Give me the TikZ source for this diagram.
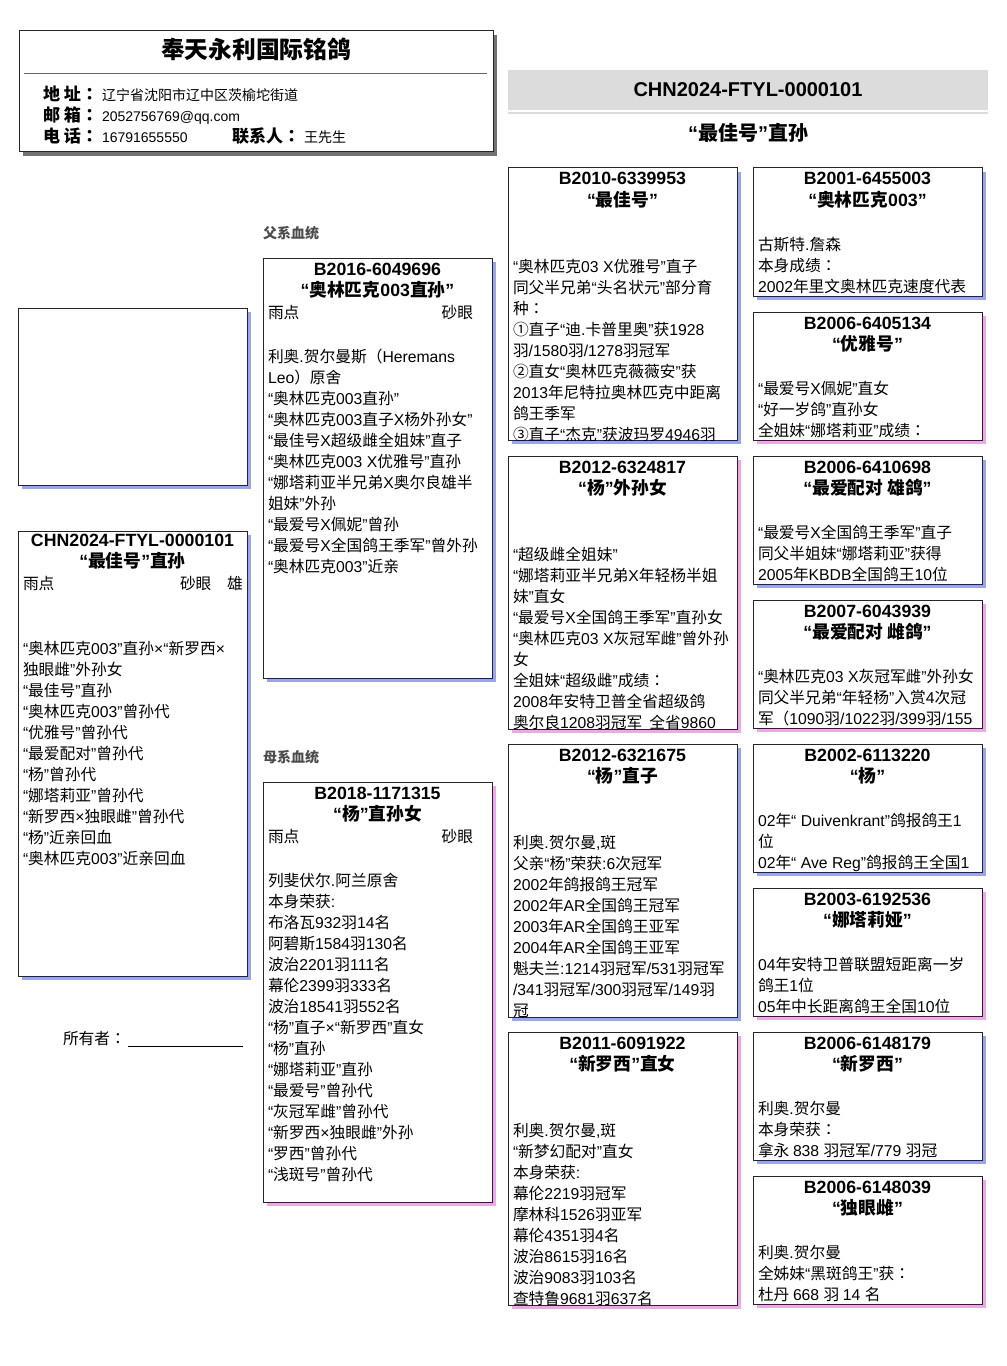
\documentclass[tikz,border=0pt]{standalone}
\usepackage{fontspec}
\setmainfont{Liberation Sans}
\newfontfamily\latinfont{Liberation Sans}
\newfontfamily\cjkfont{Noto Sans CJK SC}
\newfontfamily\punctfont{Noto Sans CJK TC}
\usetikzlibrary{shadows}

% Han characters in Noto, Latin text and quotes in Liberation
\XeTeXinterchartokenstate=1
\newXeTeXintercharclass\cjkclass
\newXeTeXintercharclass\punctclass
\newcount\cjkcode
\def\setcjkrange#1#2{\cjkcode=#1\relax
  \loop\XeTeXcharclass\cjkcode=\cjkclass
  \advance\cjkcode by 1
  \ifnum\cjkcode<#2\repeat}
\setcjkrange{"4E00}{"A000}
\setcjkrange{"3000}{"3040}
\setcjkrange{"FF00}{"FFF0}
\setcjkrange{"2460}{"24A0}
\XeTeXcharclass`“=0
\XeTeXcharclass`”=0
\XeTeXcharclass`：=\punctclass
\XeTeXinterchartoks 0 \cjkclass={\cjkfont}
\XeTeXinterchartoks 4095 \cjkclass={\cjkfont}
\XeTeXinterchartoks \punctclass \cjkclass={\cjkfont}
\XeTeXinterchartoks \cjkclass 0={\latinfont}
\XeTeXinterchartoks \punctclass 0={\latinfont}
\XeTeXinterchartoks 4095 0={\latinfont}
\XeTeXinterchartoks 0 \punctclass={\punctfont}
\XeTeXinterchartoks 4095 \punctclass={\punctfont}
\XeTeXinterchartoks \cjkclass \punctclass={\punctfont}

\definecolor{shadeblue}{RGB}{152,164,244}
\definecolor{shadepink}{RGB}{244,164,234}
\definecolor{bandgray}{RGB}{220,220,220}

\begin{document}
\begin{tikzpicture}[x=0.75pt, y=-0.75pt,
  every node/.style={inner sep=0pt, outer sep=0pt},
  body/.style={font=\fontsize{11.8}{15.75}\selectfont, anchor=base west},
  head/.style={font=\fontsize{13.3}{15}\selectfont\bfseries, anchor=base},
  card/.style={draw=black!85, fill=white, line width=0.75pt, anchor=north west,
    minimum width=171.75pt, minimum height=#1*0.75pt},
  blueside/.style={drop shadow={shadow xshift=3pt, shadow yshift=-3pt, fill=shadeblue, opacity=1}},
  pinkside/.style={drop shadow={shadow xshift=3pt, shadow yshift=-3pt, fill=shadepink, opacity=1}},
  lab/.style={font=\fontsize{12.8}{15}\selectfont\bfseries, anchor=base west},
  val/.style={font=\fontsize{10.5}{13}\selectfont, anchor=base west},
  tag/.style={font=\fontsize{10.5}{13}\selectfont\bfseries, text=black!70, anchor=base west}]

\useasboundingbox (0,0) rectangle (1006,1366);
\fill[white] (0,0) rectangle (1006,1366);

% ===== 鸽舍信息 =====
\node[draw=black!85, fill=white, line width=0.75pt, anchor=north west,
  minimum width=474*0.75pt, minimum height=121*0.75pt,
  drop shadow={shadow xshift=3pt, shadow yshift=-3pt, fill=black!55, opacity=1}] (loft) at (19,31) {};
\node[font=\fontsize{17.8}{20}\selectfont\bfseries, anchor=base] (loft-name) at (256,59) {奉天永利国际铭鸽};
\draw[black!60, line width=0.75pt] (24,74) -- (487,74);
\node[lab] (addr-l) at (43,101) {地 址：};
\node[val] (addr) at (102,101) {辽宁省沈阳市辽中区茨榆坨街道};
\node[lab] (mail-l) at (43,122) {邮 箱：};
\node[val] (mail) at (102,122) {2052756769@qq.com};
\node[lab] (tel-l) at (43,143) {电 话：};
\node[val] (tel) at (102,143) {16791655550};
\node[lab] (who-l) at (232,143) {联系人：};
\node[val] (who) at (304,143) {王先生};

% ===== 右上标题 =====
\node[fill=bandgray, minimum width=360pt, minimum height=30pt,
  font=\fontsize{15}{18}\selectfont\bfseries] (ring) at (748,90) {CHN2024-FTYL-0000101};
\draw[bandgray, line width=1.5pt] (508,113) -- (988,113);
\node[font=\fontsize{15}{18}\selectfont\bfseries, anchor=base] (ring-name) at (748,141) {“最佳号”直孙};

% ===== 照片框 =====
\node[card=177, blueside] (photo) at (18,308) {};

% ===== 本鸽 =====
\node[card=445, blueside] (self) at (18,531) {};
\node[head] (self-ring) at ([shift={(0,15)}]self.north) {CHN2024-FTYL-0000101};
\node[head] (self-name) at ([shift={(0,36)}]self.north) {“最佳号”直孙};
\node[body] (self-eye1) at ([shift={(5,58)}]self.north west) {雨点};
\node[body] (self-eye2) at ([shift={(162,58)}]self.north west) {砂眼};
\node[body] (self-sex) at ([shift={(209,58)}]self.north west) {雄};
\foreach \t [count=\i from 0] in {“奥林匹克003”直孙×“新罗西×, 独眼雌”外孙女, “最佳号”直孙,
  “奥林匹克003”曾孙代, “优雅号”曾孙代, “最爱配对”曾孙代, “杨”曾孙代, “娜塔莉亚”曾孙代,
  “新罗西×独眼雌”曾孙代, “杨”近亲回血, “奥林匹克003”近亲回血}
  \node[body] (self-\i) at ([shift={(5,123+21*\i)}]self.north west) {\t};

\node[body] (owner) at (63,1044) {所有者：};
\draw[line width=0.6pt] (128,1046) -- (243,1046);

% ===== 父系 =====
\node[tag] (sire-tag) at (263,238) {父系血统};
\node[card=420, blueside] (sire) at (263,258) {};
\node[head] (sire-ring) at ([shift={(0,17)}]sire.north) {B2016-6049696};
\node[head] (sire-name) at ([shift={(0,38)}]sire.north) {“奥林匹克003直孙”};
\node[body] (sire-eye1) at ([shift={(5,60)}]sire.north west) {雨点};
\node[body, anchor=base east] (sire-eye2) at ([shift={(210,60)}]sire.north west) {砂眼};
\foreach \t [count=\i from 0] in {利奥.贺尔曼斯（Heremans, Leo）原舍, “奥林匹克003直孙”,
  “奥林匹克003直子X杨外孙女”, “最佳号X超级雌全姐妹”直子, “奥林匹克003 X优雅号”直孙,
  “娜塔莉亚半兄弟X奥尔良雄半, 姐妹”外孙, “最爱号X佩妮”曾孙, “最爱号X全国鸽王季军”曾外孙,
  “奥林匹克003”近亲}
  \node[body] (sire-\i) at ([shift={(5,104+21*\i)}]sire.north west) {\t};

% ===== 母系 =====
\node[tag] (dam-tag) at (263,762) {母系血统};
\node[card=420, pinkside] (dam) at (263,782) {};
\node[head] (dam-ring) at ([shift={(0,17)}]dam.north) {B2018-1171315};
\node[head] (dam-name) at ([shift={(0,38)}]dam.north) {“杨”直孙女};
\node[body] (dam-eye1) at ([shift={(5,60)}]dam.north west) {雨点};
\node[body, anchor=base east] (dam-eye2) at ([shift={(210,60)}]dam.north west) {砂眼};
\foreach \t [count=\i from 0] in {列斐伏尔.阿兰原舍, 本身荣获:, 布洛瓦932羽14名, 阿碧斯1584羽130名,
  波治2201羽111名, 幕伦2399羽333名, 波治18541羽552名, “杨”直子×“新罗西”直女, “杨”直孙,
  “娜塔莉亚”直孙, “最爱号”曾孙代, “灰冠军雌”曾孙代, “新罗西×独眼雌”外孙, “罗西”曾孙代,
  “浅斑号”曾孙代}
  \node[body] (dam-\i) at ([shift={(5,104+21*\i)}]dam.north west) {\t};

% ===== 祖代 =====
\node[card=272, blueside] (ss) at (508,168) {};
\node[head] (ss-ring) at ([shift={(0,17)}]ss.north) {B2010-6339953};
\node[head] (ss-name) at ([shift={(0,38)}]ss.north) {“最佳号”};
\begin{scope}
  \clip (ss.north west) rectangle (ss.south east);
  \foreach \t [count=\i from 0] in {“奥林匹克03 X优雅号”直子, 同父半兄弟“头名状元”部分育, 种：,
    ①直子“迪.卡普里奥”获1928, 羽/1580羽/1278羽冠军, ②直女“奥林匹克薇薇安”获,
    2013年尼特拉奥林匹克中距离, 鸽王季军, ③直子“杰克”获波玛罗4946羽}
    \node[body] (ss-\i) at ([shift={(5,104+21*\i)}]ss.north west) {\t};
\end{scope}

\node[card=273, pinkside] (sd) at (508,456) {};
\node[head] (sd-ring) at ([shift={(0,17)}]sd.north) {B2012-6324817};
\node[head] (sd-name) at ([shift={(0,38)}]sd.north) {“杨”外孙女};
\begin{scope}
  \clip (sd.north west) rectangle (sd.south east);
  \foreach \t [count=\i from 0] in {“超级雌全姐妹”, “娜塔莉亚半兄弟X年轻杨半姐, 妹”直女,
    “最爱号X全国鸽王季军”直孙女, “奥林匹克03 X灰冠军雌”曾外孙, 女, 全姐妹“超级雌”成绩：,
    2008年安特卫普全省超级鸽, 奥尔良1208羽冠军\ \ 全省9860}
    \node[body] (sd-\i) at ([shift={(5,104+21*\i)}]sd.north west) {\t};
\end{scope}

\node[card=273, blueside] (ds) at (508,744) {};
\node[head] (ds-ring) at ([shift={(0,17)}]ds.north) {B2012-6321675};
\node[head] (ds-name) at ([shift={(0,38)}]ds.north) {“杨”直子};
\begin{scope}
  \clip (ds.north west) rectangle (ds.south east);
  \foreach \t [count=\i from 0] in {{利奥.贺尔曼,斑}, 父亲“杨”荣获:6次冠军, 2002年鸽报鸽王冠军,
    2002年AR全国鸽王冠军, 2003年AR全国鸽王亚军, 2004年AR全国鸽王亚军,
    魁夫兰:1214羽冠军/531羽冠军, /341羽冠军/300羽冠军/149羽, 冠}
    \node[body] (ds-\i) at ([shift={(5,104+21*\i)}]ds.north west) {\t};
\end{scope}

\node[card=273, pinkside] (dd) at (508,1032) {};
\node[head] (dd-ring) at ([shift={(0,17)}]dd.north) {B2011-6091922};
\node[head] (dd-name) at ([shift={(0,38)}]dd.north) {“新罗西”直女};
\begin{scope}
  \clip (dd.north west) rectangle (dd.south east);
  \foreach \t [count=\i from 0] in {{利奥.贺尔曼,斑}, “新梦幻配对”直女, 本身荣获:, 幕伦2219羽冠军,
    摩林科1526羽亚军, 幕伦4351羽4名, 波治8615羽16名, 波治9083羽103名, 查特鲁9681羽637名}
    \node[body] (dd-\i) at ([shift={(5,104+21*\i)}]dd.north west) {\t};
\end{scope}

% ===== 曾祖代 =====
\node[card=128, blueside] (sss) at (753,168) {};
\node[head] (sss-ring) at ([shift={(0,17)}]sss.north) {B2001-6455003};
\node[head] (sss-name) at ([shift={(0,38)}]sss.north) {“奥林匹克003”};
\foreach \t [count=\i from 0] in {古斯特.詹森, 本身成绩：, 2002年里文奥林匹克速度代表}
  \node[body] (sss-\i) at ([shift={(5,82+21*\i)}]sss.north west) {\t};

\node[card=128, pinkside] (ssd) at (753,312) {};
\node[head] (ssd-ring) at ([shift={(0,17)}]ssd.north) {B2006-6405134};
\node[head] (ssd-name) at ([shift={(0,38)}]ssd.north) {“优雅号”};
\foreach \t [count=\i from 0] in {“最爱号X佩妮”直女, “好一岁鸽”直孙女, 全姐妹“娜塔莉亚”成绩：}
  \node[body] (ssd-\i) at ([shift={(5,82+21*\i)}]ssd.north west) {\t};

\node[card=128, blueside] (sds) at (753,456) {};
\node[head] (sds-ring) at ([shift={(0,17)}]sds.north) {B2006-6410698};
\node[head] (sds-name) at ([shift={(0,38)}]sds.north) {“最爱配对 雄鸽”};
\foreach \t [count=\i from 0] in {“最爱号X全国鸽王季军”直子, 同父半姐妹“娜塔莉亚”获得, 2005年KBDB全国鸽王10位}
  \node[body] (sds-\i) at ([shift={(5,82+21*\i)}]sds.north west) {\t};

\node[card=128, pinkside] (sdd) at (753,600) {};
\node[head] (sdd-ring) at ([shift={(0,17)}]sdd.north) {B2007-6043939};
\node[head] (sdd-name) at ([shift={(0,38)}]sdd.north) {“最爱配对 雌鸽”};
\foreach \t [count=\i from 0] in {“奥林匹克03 X灰冠军雌”外孙女, 同父半兄弟“年轻杨”入赏4次冠, 军（1090羽/1022羽/399羽/155}
  \node[body] (sdd-\i) at ([shift={(5,82+21*\i)}]sdd.north west) {\t};

\node[card=128, blueside] (dss) at (753,744) {};
\node[head] (dss-ring) at ([shift={(0,17)}]dss.north) {B2002-6113220};
\node[head] (dss-name) at ([shift={(0,38)}]dss.north) {“杨”};
\foreach \t [count=\i from 0] in {02年“ Duivenkrant”鸽报鸽王1, 位, 02年“ Ave Reg”鸽报鸽王全国1}
  \node[body] (dss-\i) at ([shift={(5,82+21*\i)}]dss.north west) {\t};

\node[card=128, pinkside] (dsd) at (753,888) {};
\node[head] (dsd-ring) at ([shift={(0,17)}]dsd.north) {B2003-6192536};
\node[head] (dsd-name) at ([shift={(0,38)}]dsd.north) {“娜塔莉娅”};
\foreach \t [count=\i from 0] in {04年安特卫普联盟短距离一岁, 鸽王1位, 05年中长距离鸽王全国10位}
  \node[body] (dsd-\i) at ([shift={(5,82+21*\i)}]dsd.north west) {\t};

\node[card=128, blueside] (dds) at (753,1032) {};
\node[head] (dds-ring) at ([shift={(0,17)}]dds.north) {B2006-6148179};
\node[head] (dds-name) at ([shift={(0,38)}]dds.north) {“新罗西”};
\foreach \t [count=\i from 0] in {利奥.贺尔曼, 本身荣获：, 拿永 838 羽冠军/779 羽冠}
  \node[body] (dds-\i) at ([shift={(5,82+21*\i)}]dds.north west) {\t};

\node[card=128, pinkside] (ddd) at (753,1176) {};
\node[head] (ddd-ring) at ([shift={(0,17)}]ddd.north) {B2006-6148039};
\node[head] (ddd-name) at ([shift={(0,38)}]ddd.north) {“独眼雌”};
\foreach \t [count=\i from 0] in {利奥.贺尔曼, 全姊妹“黑斑鸽王”获：, 杜丹 668 羽 14 名}
  \node[body] (ddd-\i) at ([shift={(5,82+21*\i)}]ddd.north west) {\t};

\end{tikzpicture}
\end{document}
